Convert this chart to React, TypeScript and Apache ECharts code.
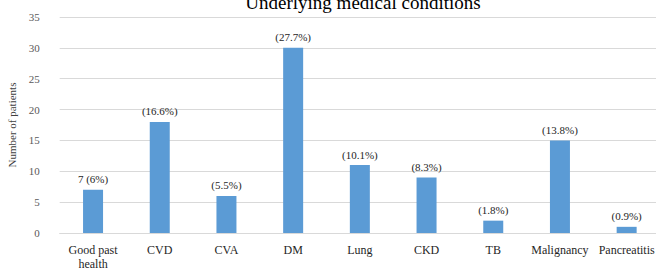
import React, { useEffect, useRef } from "react";
import * as echarts from "echarts";

const categories = ["Good past\nhealth", "CVD", "CVA", "DM", "Lung", "CKD", "TB", "Malignancy", "Pancreatitis"];
const values = [7, 18, 6, 30, 11, 9, 2, 15, 1];
const labels = ["7 (6%)", "(16.6%)", "(5.5%)", "(27.7%)", "(10.1%)", "(8.3%)", "(1.8%)", "(13.8%)", "(0.9%)"];

const FONT = "Times New Roman, Liberation Serif, serif";

export default function App() {
  const ref = useRef<HTMLDivElement>(null);
  useEffect(() => {
    if (!ref.current) return;
    const chart = echarts.init(ref.current, null, { renderer: "svg" });
    chart.setOption({
      animation: false,
      backgroundColor: "#ffffff",
      textStyle: { fontFamily: FONT },
      title: {
        text: "Underlying medical conditions",
        left: 358,
        textAlign: "center",
        top: -12,
        textStyle: { fontFamily: FONT, fontSize: 19, fontWeight: "normal", color: "#000000" },
      },
      grid: { left: 59.7, right: -4, top: 17, bottom: 36, containLabel: false, outerBoundsMode: "none" },
      xAxis: {
        type: "category",
        data: categories,
        axisLine: { show: true, lineStyle: { color: "#d9d9d9" } },
        axisTick: { show: false },
        axisLabel: {
          fontFamily: FONT,
          fontSize: 12,
          color: "#262626",
          interval: 0,
          margin: 10,
          lineHeight: 14,
        },
      },
      yAxis: {
        type: "value",
        min: 0,
        max: 35,
        interval: 5,
        name: "Number of patients",
        nameLocation: "middle",
        nameGap: 38,
        nameTextStyle: { fontFamily: FONT, fontSize: 11, color: "#404040" },
        axisLine: { show: false },
        axisTick: { show: false },
        splitLine: { lineStyle: { color: "#d9d9d9" } },
        axisLabel: { fontFamily: FONT, fontSize: 11, color: "#595959", margin: 20 },
      },
      series: [
        {
          type: "bar",
          data: values,
          barWidth: 20,
          itemStyle: { color: "#5b9bd5" },
          label: {
            show: true,
            position: "top",
            distance: 5,
            fontFamily: FONT,
            fontSize: 11,
            color: "#262626",
            formatter: (p: any) => labels[p.dataIndex],
          },
        },
      ],
    });
    return () => chart.dispose();
  }, []);
  return <div ref={ref} style={{ position: "fixed", left: 0, top: 0, width: 656, height: 269 }} />;
}
